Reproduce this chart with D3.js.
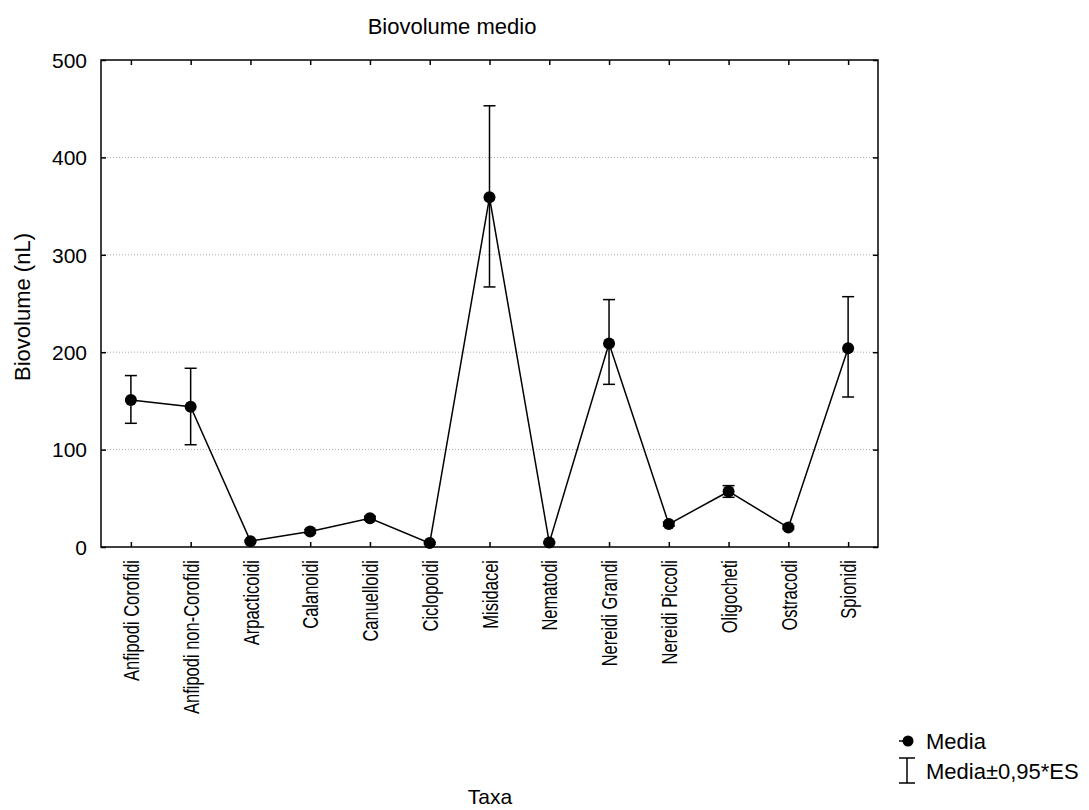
<!DOCTYPE html>
<html><head><meta charset="utf-8">
<script src="https://cdn.jsdelivr.net/npm/d3@7"></script>
<style>body{margin:0;background:#fff;} text{font-family:"Liberation Sans",Arial,sans-serif;}</style>
</head><body>
<svg id="chart" width="1089" height="810"></svg>
<script>
const categories = ["Anfipodi Corofidi","Anfipodi non-Corofidi","Arpacticoidi","Calanoidi","Canuelloidi","Ciclopoidi","Misidacei","Nematodi","Nereidi Grandi","Nereidi Piccoli","Oligocheti","Ostracodi","Spionidi"];
const means = [151, 144, 6, 16, 29.5, 4, 359, 4.5, 209, 23.5, 57, 20, 204];
const lower = [127, 105, 5, 14, 27.5, 3, 267, 3.5, 167, 21.5, 51, 18.5, 154];
const upper = [176, 183.5, 7, 18, 31.5, 5, 453, 5.5, 254, 25.5, 63, 21.5, 257];
const yTicks = [0, 100, 200, 300, 400, 500];

const FS = 21;
const svg = d3.select("#chart");
const L = 101, R = 878, T = 60, B = 547;
const x = d3.scalePoint().domain(categories).range([L, R]).padding(0.5);
const y = d3.scaleLinear().domain([0, 500]).range([B, T]);

// gridlines
svg.append("g").selectAll("line").data(yTicks.filter(d => d > 0 && d < 500)).join("line")
  .attr("x1", L).attr("x2", R).attr("y1", d => y(d)).attr("y2", d => y(d))
  .attr("stroke", "#aaa").attr("stroke-width", 1).attr("stroke-dasharray", "1,2");

// frame
svg.append("rect").attr("x", L).attr("y", T).attr("width", R - L).attr("height", B - T)
  .attr("fill", "none").attr("stroke", "#000").attr("stroke-width", 1.5);

// axes
const yAxis = svg.append("g").attr("transform", `translate(${L},0)`)
  .call(d3.axisLeft(y).tickValues(yTicks).tickSize(-5).tickPadding(14));
const yAxisR = svg.append("g").attr("transform", `translate(${R},0)`)
  .call(d3.axisRight(y).tickValues(yTicks).tickSize(-5).tickFormat(""));
const xAxis = svg.append("g").attr("transform", `translate(0,${B})`)
  .call(d3.axisBottom(x).tickSize(-5).tickPadding(10));
const xAxisT = svg.append("g").attr("transform", `translate(0,${T})`)
  .call(d3.axisTop(x).tickSize(-5).tickFormat(""));
[yAxis, yAxisR, xAxis, xAxisT].forEach(g => {
  g.select(".domain").remove();
  g.selectAll(".tick line").attr("stroke", "#000").attr("stroke-width", 1.5);
});
yAxis.selectAll(".tick text").attr("font-size", FS).attr("fill", "#000")
  .attr("font-family", "Liberation Sans, Arial, sans-serif").attr("dy", "0.35em");
const SC = 0.75;
xAxis.selectAll(".tick text")
  .attr("font-size", 22).attr("fill", "#000").attr("font-family", "Liberation Sans, Arial, sans-serif")
  .attr("transform", `rotate(-90) scale(${SC},1)`).attr("text-anchor", "end")
  .attr("x", -13 / SC).attr("y", 0).attr("dy", "0.35em");

// line
svg.append("path").datum(categories.map((c, i) => [x(c), y(means[i])]))
  .attr("d", d3.line()).attr("fill", "none").attr("stroke", "#000").attr("stroke-width", 1.5);

// error bars
const eb = svg.append("g").selectAll("g").data(categories).join("g");
eb.append("line").attr("x1", d => x(d)).attr("x2", d => x(d))
  .attr("y1", (d, i) => y(lower[i])).attr("y2", (d, i) => y(upper[i]))
  .attr("stroke", "#000").attr("stroke-width", 1.5);
eb.append("line").attr("x1", d => x(d) - 6).attr("x2", d => x(d) + 6)
  .attr("y1", (d, i) => y(lower[i])).attr("y2", (d, i) => y(lower[i]))
  .attr("stroke", "#000").attr("stroke-width", 1.5);
eb.append("line").attr("x1", d => x(d) - 6).attr("x2", d => x(d) + 6)
  .attr("y1", (d, i) => y(upper[i])).attr("y2", (d, i) => y(upper[i]))
  .attr("stroke", "#000").attr("stroke-width", 1.5);

// points
svg.append("g").selectAll("circle").data(categories).join("circle")
  .attr("cx", d => x(d)).attr("cy", (d, i) => y(means[i])).attr("r", 6).attr("fill", "#000");

// titles
svg.append("text").attr("x", 452).attr("y", 34).attr("text-anchor", "middle")
  .attr("font-size", 22).text("Biovolume medio");
svg.append("text").attr("x", 490).attr("y", 804).attr("text-anchor", "middle")
  .attr("font-size", 21).text("Taxa");
svg.append("text").attr("transform", "translate(30,307) rotate(-90)").attr("text-anchor", "middle")
  .attr("font-size", 22).text("Biovolume (nL)");

// legend
const lg = svg.append("g");
lg.append("circle").attr("cx", 908).attr("cy", 741).attr("r", 5.5).attr("fill", "#000");
lg.append("line").attr("x1", 899).attr("x2", 908).attr("y1", 741).attr("y2", 741).attr("stroke", "#000").attr("stroke-width", 1.5);
lg.append("text").attr("x", 926).attr("y", 749).attr("font-size", 22).text("Media");
lg.append("line").attr("x1", 907).attr("x2", 907).attr("y1", 758).attr("y2", 783).attr("stroke", "#000").attr("stroke-width", 1.5);
lg.append("line").attr("x1", 899).attr("x2", 915).attr("y1", 758).attr("y2", 758).attr("stroke", "#000").attr("stroke-width", 1.5);
lg.append("line").attr("x1", 899).attr("x2", 915).attr("y1", 783).attr("y2", 783).attr("stroke", "#000").attr("stroke-width", 1.5);
lg.append("text").attr("x", 926).attr("y", 779).attr("font-size", 22).text("Media±0,95*ES");
</script>
</body></html>
